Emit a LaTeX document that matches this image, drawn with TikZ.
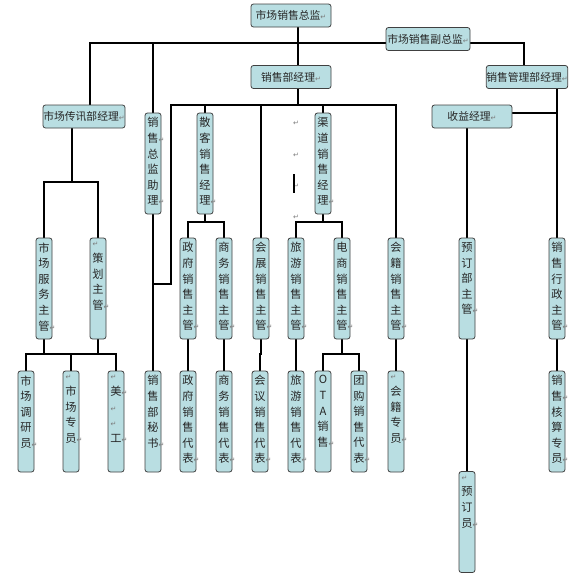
\documentclass[tikz,border=0pt]{standalone}
\usepackage{fontspec}
\setmainfont{Noto Sans CJK SC}
\newfontfamily\dvfont{DejaVu Sans}
\usetikzlibrary{backgrounds}
\definecolor{boxfill}{HTML}{B9DEE2}
\definecolor{boxline}{HTML}{404040}
\definecolor{rtc}{HTML}{7A7A7A}
\newcommand\rt{{\dvfont\fontsize{7}{7}\selectfont\color{rtc}↵}}
\newcommand\rmk{\rlap{\rt}}
\newcommand\emk{\makebox[11pt][l]{\rt}}
\newcommand\vtext[1]{\parbox[c][101pt][t]{16pt}{\centering\fontsize{11.2}{15.6}\selectfont\vspace*{4.5pt}#1\par}}
\tikzset{
  hbox/.style={draw=boxline, line width=0.8pt, fill=boxfill, rounded corners=2.5pt, inner sep=0pt,
    minimum width=80pt, minimum height=23pt, font=\fontsize{10.8}{12}\selectfont, text=black!85},
  vbox/.style={draw=boxline, line width=0.8pt, fill=boxfill, rounded corners=2.5pt, inner sep=0pt,
    minimum width=16pt, minimum height=101pt, text=black!85},
  ln/.style={line width=2.7pt, black},
  stray/.style={inner sep=0pt}
}
\begin{document}
\begin{tikzpicture}[x=1pt,y=-1pt]
\useasboundingbox (0,0) rectangle (580,576);
% horizontal boxes
\node[hbox] (zj) at (291,15.5) {市场销售总监\rt};
\node[hbox, minimum width=84pt] (fzj) at (428,39) {市场销售副总监\rt};
\node[hbox] (xsjl) at (291,77) {销售部经理\rt};
\node[hbox] (glj) at (527,77) {销售管理部经理\rt};
\node[hbox, minimum width=82pt] (csjl) at (84,116.5) {市场传讯部经理\rt};
\node[hbox] (syjl) at (472,116.5) {收益经理\rt};
% row A
\node[vbox] (zl) at (153,163.5) {\vtext{销\\售\rmk\\总\\监\\助\\理\rmk}};
\node[vbox] (sk) at (205,163.5) {\vtext{散\\客\\销\\售\\经\\理\rmk}};
\node[vbox] (qd) at (323,163.5) {\vtext{渠\\道\\销\\售\\经\\理\rmk}};
% row B
\node[vbox] (fw) at (44,288.5) {\vtext{市\\场\\服\\务\\主\\管\rmk}};
\node[vbox] (ch) at (98,288.5) {\vtext{\emk\\策\\划\\主\\管\rmk}};
\node[vbox] (zf) at (188,288.5) {\vtext{政\\府\\销\\售\\主\\管\rmk}};
\node[vbox] (sw) at (224,288.5) {\vtext{商\\务\\销\\售\\主\\管\rmk}};
\node[vbox] (hz) at (261,288.5) {\vtext{会\\展\\销\\售\\主\\管\rmk}};
\node[vbox] (ly) at (296,288.5) {\vtext{旅\\游\\销\\售\\主\\管\rmk}};
\node[vbox] (ds) at (342,288.5) {\vtext{电\\商\\销\\售\\主\\管\rmk}};
\node[vbox] (hj) at (396,288.5) {\vtext{会\\籍\\销\\售\\主\\管\rmk}};
\node[vbox] (yd) at (467,288.5) {\vtext{预\\订\\部\\主\\管\rmk}};
\node[vbox] (xz) at (557,288.5) {\vtext{销\\售\\行\\政\\主\\管\rmk}};
% row C
\node[vbox] (dy) at (26,421.5) {\vtext{市\\场\\调\\研\\员\rmk}};
\node[vbox] (zy) at (71,421.5) {\vtext{\emk\\市\\场\\专\\员\rmk}};
\node[vbox] (mg) at (116,421.5) {\vtext{\emk\\美\rmk\\\emk\\\emk\\工\rmk}};
\node[vbox] (ms) at (153,421.5) {\vtext{销\\售\\部\\秘\\书\rmk}};
\node[vbox] (zfdb) at (188,421.5) {\vtext{政\\府\\销\\售\\代\\表\rmk}};
\node[vbox] (swdb) at (224,421.5) {\vtext{商\\务\\销\\售\\代\\表\rmk}};
\node[vbox] (hydb) at (260,421.5) {\vtext{会\\议\\销\\售\\代\\表\rmk}};
\node[vbox] (lydb) at (296,421.5) {\vtext{旅\\游\\销\\售\\代\\表\rmk}};
\node[vbox] (ota) at (323,421.5) {\vtext{O\\T\\A\\销\\售\rmk}};
\node[vbox] (tg) at (359,421.5) {\vtext{团\\购\\销\\售\\代\\表\rmk}};
\node[vbox] (hjzy) at (396,421.5) {\vtext{\emk\\会\\籍\\专\\员\rmk}};
\node[vbox] (hs) at (557,421.5) {\vtext{销\\售\rmk\\核\\算\\专\\员\rmk}};
% row D
\node[vbox, minimum height=100pt] (ydy) at (467,522) {\vtext{\emk\\预\\订\\员\rmk}};
% stray marks
\node[stray] (s1) at (296,123) {\rt};
\node[stray] (s2) at (296,155) {\rt};
\node[stray] (s3) at (296,186) {\rt};
\node[stray] (s4) at (296,217) {\rt};
\coordinate (cur1) at (294,174);
\coordinate (cur2) at (294,193);
\draw[line width=1.6pt] (cur1) -- (cur2);
% helper coordinates
\coordinate (b1L) at (90,43);
\coordinate (b1R) at (524,43);
\coordinate (b1m) at (298,43);
\coordinate (b2L) at (171,105);
\coordinate (ms1) at (171,284);
\coordinate (y222) at (0,222);
\coordinate (csx) at (72,182);
\coordinate (y354) at (0,354);
\coordinate (y113) at (0,113);
\begin{pgfonlayer}{background}
\draw[ln] (zj.south -| b1m) -- (xsjl.north -| b1m);
\draw[ln] (csjl.north -| b1L) -- (b1L) -- (b1R) -- (glj.north -| b1R);
\draw[ln] (zl.north |- b1L) -- (zl.north);
\draw[ln] (xsjl.south -| b1m) -- (b1m |- b2L);
\draw[ln] (ms.north) -- (ms.north |- ms1) -- (ms1) -- (b2L) -- (b2L -| hj.north) -- (hj.north);
\draw[ln] (zl.south) -- (ms.north);
\draw[ln] (sk.north) -- (sk.north |- b2L);
\draw[ln] (hz.north) -- (hz.north |- b2L);
\draw[ln] (qd.north) -- (qd.north |- b2L);
\draw[ln] (sk.south) -- (sk.south |- y222);
\draw[ln] (zf.north) -- (zf.north |- y222) -- (sw.north |- y222) -- (sw.north);
\draw[ln] (qd.south) -- (qd.south |- y222);
\draw[ln] (ly.north) -- (ly.north |- y222) -- (ds.north |- y222) -- (ds.north);
\draw[ln] (csjl.south -| csx) -- (csx);
\draw[ln] (fw.north) -- (fw.north |- csx) -- (ch.north |- csx) -- (ch.north);
\draw[ln] (fw.south) -- (fw.south |- y354);
\draw[ln] (ch.south) -- (ch.south |- y354);
\draw[ln] (dy.north) -- (dy.north |- y354) -- (mg.north |- y354) -- (mg.north);
\draw[ln] (zy.north) -- (zy.north |- y354);
\draw[ln] (zf.south) -- (zfdb.north);
\draw[ln] (sw.south) -- (swdb.north);
\draw[ln] (hz.south) -- (hz.south |- y354) -- (hydb.north |- y354) -- (hydb.north);
\draw[ln] (ly.south) -- (lydb.north);
\draw[ln] (ds.south) -- (ds.south |- y354);
\draw[ln] (ota.north) -- (ota.north |- y354) -- (tg.north |- y354) -- (tg.north);
\draw[ln] (hj.south) -- (hjzy.north);
\draw[ln] (glj.south -| xz.north) -- (xz.north);
\draw[ln] (syjl.east |- y113) -- (xz.north |- y113);
\draw[ln] (syjl.south -| yd.north) -- (yd.north);
\draw[ln] (yd.south) -- (ydy.north);
\draw[ln] (xz.south) -- (hs.north);
\end{pgfonlayer}
\end{tikzpicture}
\end{document}
